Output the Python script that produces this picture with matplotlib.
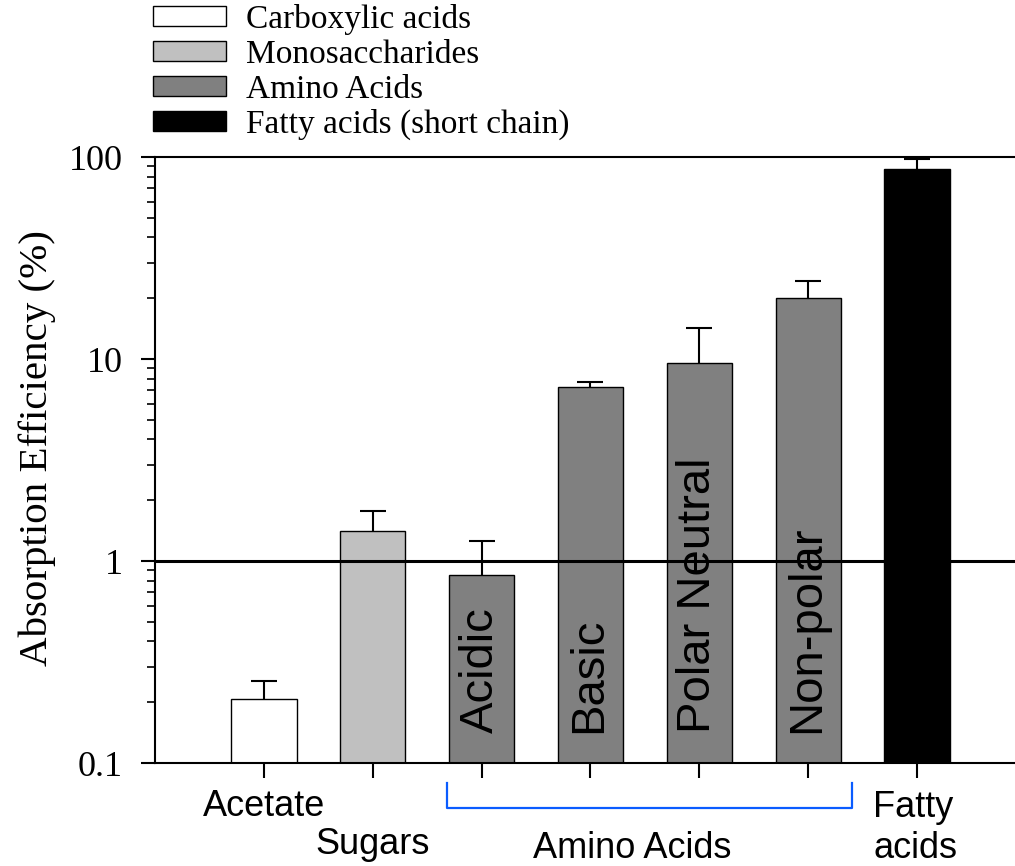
import numpy as np
import matplotlib.pyplot as plt
from matplotlib.patches import Patch
from matplotlib.ticker import FixedLocator, NullFormatter, LogLocator

# absorption efficiency (%) per compound class, upper error only
groups = ["Acetate", "Sugars", "Acidic", "Basic", "Polar Neutral", "Non-polar", "Fatty"]
means = [0.207, 1.41, 0.853, 7.27, 9.55, 20.0, 87.2]
upper_err = [0.048, 0.36, 0.407, 0.42, 4.65, 4.3, 10.5]
classes = ["Carboxylic acids", "Monosaccharides", "Amino Acids", "Amino Acids",
           "Amino Acids", "Amino Acids", "Fatty acids (short chain)"]
class_colors = {
    "Carboxylic acids": "#ffffff",
    "Monosaccharides": "#c0c0c0",
    "Amino Acids": "#808080",
    "Fatty acids (short chain)": "#000000",
}
inner_labels = ["", "", "Acidic", "Basic", "Polar Neutral", "Non-polar", ""]

serif = ["Liberation Serif", "DejaVu Serif"]
sans = ["Liberation Sans", "DejaVu Sans"]

fig = plt.figure(figsize=(10.15, 8.66), dpi=100)
ax = fig.add_axes([155 / 1015, 103 / 866, 860 / 1015, 606 / 866])

x = np.arange(1, len(groups) + 1)
colors = [class_colors[c] for c in classes]
ax.bar(x, means, width=0.6, color=colors, edgecolor="black", linewidth=1.0, zorder=2)
_, caps, _ = ax.errorbar(x, means, yerr=[np.zeros(len(means)), upper_err], fmt="none",
                         ecolor="black", elinewidth=1.5, capsize=9.5, capthick=1.5,
                         zorder=3)
caps[0].remove()  # keep only the upper caps

ax.axhline(1, color="black", linewidth=2.2, zorder=4)

ax.set_yscale("log")
ax.set_ylim(0.1, 100)
ax.set_xlim(0, 7.9)

ax.yaxis.set_major_locator(FixedLocator([0.1, 1, 10, 100]))
ax.set_yticklabels(["0.1", "1", "10", "100"], fontfamily=serif, fontsize=26)
ax.yaxis.set_minor_locator(LogLocator(base=10, subs=np.arange(2, 10)))
ax.yaxis.set_minor_formatter(NullFormatter())
ax.tick_params(axis="y", which="major", direction="out", length=10, width=1.5, pad=13)
ax.tick_params(axis="y", which="minor", direction="out", length=6, width=1.2)

ax.set_xticks(x)
ax.set_xticklabels([])
ax.tick_params(axis="x", which="major", direction="out", length=11, width=1.5)

for side in ["left", "bottom", "top"]:
    ax.spines[side].set_linewidth(1.5)
ax.spines["right"].set_visible(False)

ax.set_ylabel("Absorption Efficiency (%)", fontfamily=serif, fontsize=29.5)
ax.yaxis.set_label_coords(-0.115, 0.52)

# names written inside the amino acid bars
for xi, lab in zip(x, inner_labels):
    if lab:
        ax.text(xi - 0.01, 0.14, lab, rotation=90, ha="center", va="bottom",
                fontfamily=sans, fontsize=34, zorder=5)

# category names under the axis
xt = ax.get_xaxis_transform()
under = dict(transform=xt, fontfamily=sans, fontsize=26, va="baseline")
ax.text(1, -0.0875, "Acetate", ha="center", **under)
ax.text(2, -0.150, "Sugars", ha="center", **under)
ax.text(4.385, -0.156, "Amino Acids", ha="center", **under)
ax.text(6.596, -0.0891, "Fatty", ha="left", **under)
ax.text(6.596, -0.157, "acids", ha="left", **under)

# bracket grouping the amino acid bars
ax.plot([2.68, 2.68, 6.40, 6.40], [-0.033, -0.074, -0.074, -0.033],
        transform=xt, color="#0a5cff", linewidth=1.6, clip_on=False)

handles = [Patch(facecolor=class_colors[c], edgecolor="black", linewidth=1.0, label=c)
           for c in class_colors]
fig.legend(handles=handles, loc="upper left", bbox_to_anchor=(153 / 1015, 1 - 4 / 866),
           frameon=False, prop={"family": serif, "size": 24}, handlelength=2.2,
           handleheight=0.55, handletextpad=0.6, labelspacing=0.13, borderpad=0,
           borderaxespad=0)

fig.savefig("out.png", dpi=100)
